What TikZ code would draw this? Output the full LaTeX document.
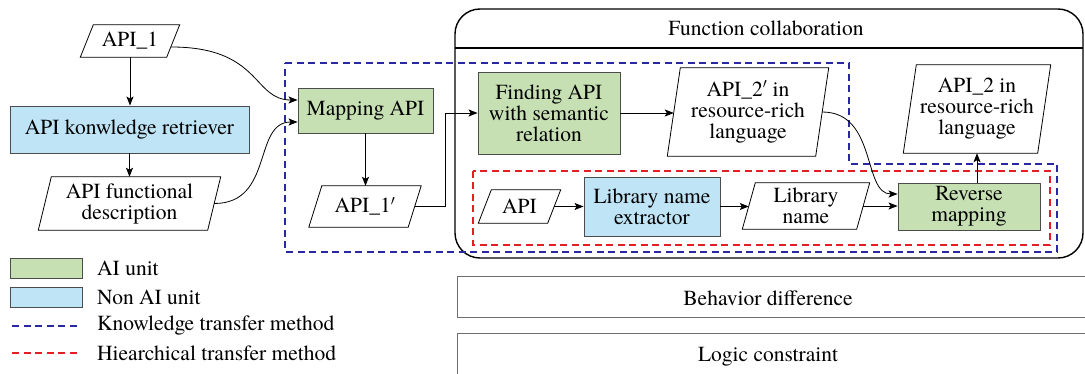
\documentclass[tikz,border=0pt]{standalone}
\usepackage{fontspec}
\setmainfont{texgyretermes}[Extension=.otf, UprightFont=*-regular, BoldFont=*-bold, ItalicFont=*-italic, BoldItalicFont=*-bolditalic]
\usetikzlibrary{arrows.meta,calc}

\definecolor{aigreen}{RGB}{198,224,180}
\definecolor{nonaiblue}{RGB}{190,228,246}
\definecolor{ktblue}{RGB}{40,40,165}
\definecolor{htred}{RGB}{228,30,35}
\definecolor{boxgray}{RGB}{110,110,110}

% input/output node: a slanted parallelogram around centred text
% #1 name, #2 x, #3 y, #4 width, #5 height, #6 text
\newcommand\ionode[6]{%
  \node[minimum width=#4pt, minimum height=#5pt] (#1) at (#2,#3) {#6};
  \draw[ioline] ($(#1.north west)+(6.5,0)$) -- ($(#1.north east)+(6.5,0)$)
    -- ($(#1.south east)+(-6.5,0)$) -- ($(#1.south west)+(-6.5,0)$) -- cycle;
}

\begin{document}
\begin{tikzpicture}[x=1pt, y=-1pt,
  font=\rmfamily\fontsize{21.5}{21}\selectfont,
  every node/.style={inner sep=0pt, align=center},
  ioline/.style={draw=black, line width=0.8pt},
  aibox/.style={draw=black!70, fill=aigreen, line width=0.9pt},
  nonaibox/.style={draw=black!70, fill=nonaiblue, line width=0.9pt},
  flow/.style={line width=0.8pt, -{Stealth[length=9pt, width=7pt, inset=2pt]}},
  ktline/.style={draw=ktblue, line width=2pt, dash pattern=on 7pt off 4.5pt},
  htline/.style={draw=htred, line width=2pt, dash pattern=on 7pt off 4.5pt},
  layerbox/.style={draw=boxgray, line width=1pt},
]
\useasboundingbox (0,0) rectangle (1085,374);

% function collaboration container
\draw[line width=1.4pt, rounded corners=25pt] (455,9) rectangle (1083,258);
\draw[line width=1.4pt] (455,48) -- (1083,48);
\node (fctitle) at (766,28) {Function collaboration};

% lower layers
\draw[layerbox] (457,277) rectangle (1100,317);
\node (behavior) at (768,298) {Behavior difference};
\draw[layerbox] (457,333) rectangle (1100,400);
\node (logic) at (768,357) {Logic constraint};

% transfer-method regions
\draw[ktline] (285,63) -- (849,63) -- (849,164) -- (1057,164) -- (1057,252) -- (285,252) -- cycle;
\draw[htline] (473,171) rectangle (1050,245);

% left column
\ionode{apione}{130}{41}{86}{32}{API\_1}
\node[nonaibox, minimum width=239pt, minimum height=47pt] (retriever) at (129.5,129.5) {API konwledge retriever};
\ionode{funcdesc}{129.5}{203.5}{169}{53}{API functional\\description}

% knowledge transfer
\node[aibox, minimum width=135pt, minimum height=45pt] (mapping) at (365.5,110.5) {Mapping API};
\ionode{apionep}{365}{206.5}{99}{41}{API\_1$'$}
\node[aibox, minimum width=142pt, minimum height=82pt] (finding) at (549,113) {Finding API\\with semantic\\relation};
\ionode{apitwop}{748}{112}{148}{88}{API\_2$'$ in\\resource-rich\\language}
\ionode{apitwo}{977}{109}{134}{88}{API\_2 in\\resource-rich\\language}

% hierarchical transfer
\ionode{api}{519.5}{206.5}{69}{33}{API}
\node[nonaibox, minimum width=136pt, minimum height=59pt] (extractor) at (652,206.5) {Library name\\extractor};
\ionode{libname}{806}{206}{114}{46}{Library\\name}
\node[aibox, minimum width=142pt, minimum height=47pt] (reverse) at (969,206.5) {Reverse\\mapping};

% connectors
\draw[flow] (apione.south) -- (apione.south |- retriever.north);
\draw[flow] (retriever.south) -- (retriever.south |- funcdesc.north);
\draw[flow] ([shift={(-2,6)}]apione.east) .. controls +(90,0) and +(-45,0) .. ([yshift=10.5pt]mapping.west);
\draw[flow] (funcdesc.east) .. controls +(60,0) and +(-45,0) .. ([yshift=-11.5pt]mapping.west);
\draw[flow] (mapping.south) -- (mapping.south |- apionep.north);
\draw[flow] (apionep.east) -- ++(31,0) |- (finding.west);
\draw[flow] (finding.east) -- (finding.east -| apitwop.west);
\draw[flow] (apitwop.east) .. controls +(55,0) and +(-35,0) .. ([yshift=12.5pt]reverse.west);
\draw[flow] (api.east) -- (extractor.west);
\draw[flow] (extractor.east) -- (extractor.east -| libname.west);
\draw[flow] (libname.east) -- (libname.east -| reverse.west);
\draw[flow] (reverse.north -| apitwo.south) -- (apitwo.south);

% legend
\node[aibox, minimum width=72pt, minimum height=20pt] (lgai) at (46,268) {};
\node[nonaibox, minimum width=72pt, minimum height=20pt] (lgnonai) at (46,297) {};
\coordinate (ktA) at (12,326);
\coordinate (ktB) at (80,326);
\coordinate (htA) at (12,353);
\coordinate (htB) at (80,353);
\draw[ktline] (ktA) -- (ktB);
\draw[htline] (htA) -- (htB);
\node[anchor=west] (lgaitext) at (97,268) {AI unit};
\node[anchor=west] (lgnonaitext) at (97,297) {Non AI unit};
\node[anchor=west] (lgkttext) at (97,326) {Knowledge transfer method};
\node[anchor=west] (lghttext) at (97,353) {Hiearchical transfer method};
\end{tikzpicture}
\end{document}
